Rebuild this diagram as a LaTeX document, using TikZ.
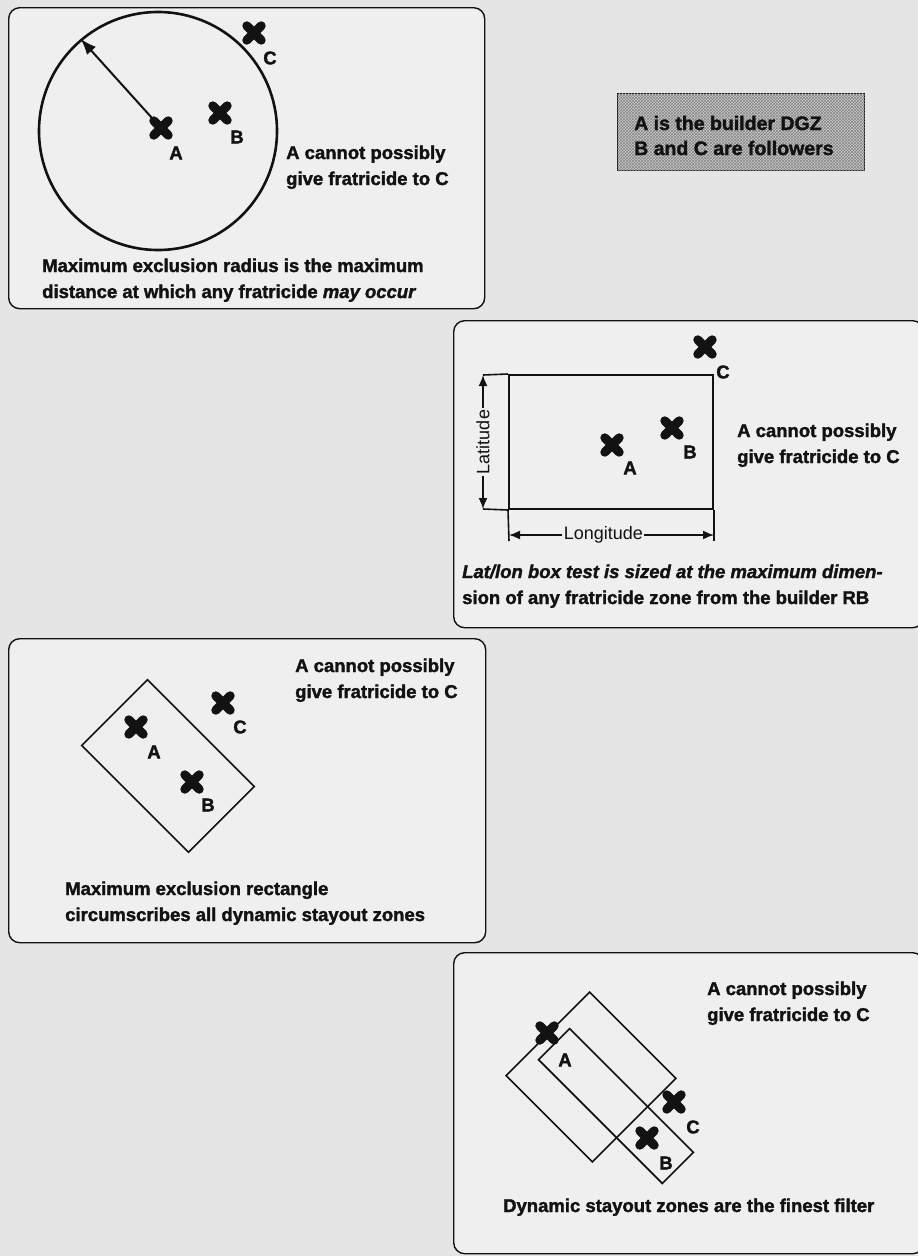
\documentclass[tikz,border=0pt]{standalone}
\usepackage{fontspec}
\setmainfont{Liberation Sans}[BoldFeatures={FakeBold=1.7},BoldItalicFeatures={FakeBold=1.7}]
\usetikzlibrary{arrows.meta,patterns}
\definecolor{pagebg}{RGB}{229,229,229}
\definecolor{panelbg}{RGB}{239,239,239}
\definecolor{ink}{RGB}{18,18,18}
\definecolor{hatchbg}{RGB}{205,205,205}
\definecolor{hatchfg}{RGB}{130,130,130}
\newcommand\xcross[2]{%
  \node[xm] (#1) at (#2) {};
  \draw[xarm] (#1.45) -- (#1.225) (#1.135) -- (#1.-45);}
\begin{document}
\begin{tikzpicture}[x=1pt,y=-1pt,
  pnl/.style={draw=ink, line width=1.4, rounded corners=11, fill=panelbg,
    anchor=north west, inner sep=0},
  xm/.style={circle, minimum size=20, inner sep=0},
  xarm/.style={draw=ink, line width=9, line cap=round},
  lbl/.style={font=\fontsize{18.5}{20}\selectfont\bfseries, inner sep=0, text=ink},
  txt/.style={font=\fontsize{18.5}{26}\selectfont\bfseries, align=left,
    inner sep=0, anchor=base west, text=ink},
  dimtxt/.style={font=\fontsize{18}{20}\selectfont, inner sep=1.5, fill=panelbg, text=ink},
  shape1/.style={draw=ink, line width=1.6, inner sep=0},
  dimline/.style={draw=ink, line width=1.6},
  dimarrow/.style={draw=ink, line width=1.6, {Latex[length=11,width=9]}-{Latex[length=11,width=9]}},
]
% page
\fill[pagebg] (0,0) rectangle (918,1256);
\useasboundingbox (0,0) rectangle (918,1256);

% ---------------- panel 1
\node[pnl, minimum width=476, minimum height=301] (p1) at (8,7) {};
\node[circle, draw=ink, line width=2.6, minimum size=238, inner sep=0] (circ1) at (158,131) {};
\xcross{A1}{161,128}
\xcross{B1}{220,113}
\xcross{C1}{254,33}
\node[lbl] (lA1) at (176,153) {A};
\node[lbl] (lB1) at (237,137) {B};
\node[lbl] (lC1) at (270,58) {C};
\draw[draw=ink, line width=2, -{Latex[length=16,width=12]}] (A1.center) -- (circ1.130);
\node[txt] (t1a) at (286,185) {A cannot possibly\\give fratricide to C};
\node[txt] (t1b) at (42,298) {Maximum exclusion radius is the maximum\\distance at which any fratricide \textit{may occur}};

% ---------------- legend
\node[draw=ink, line width=1.4, fill=hatchbg, minimum width=247, minimum height=77,
  anchor=north west, inner sep=0,
  postaction={pattern=crosshatch, pattern color=hatchfg}] (leg) at (617,93) {};
\node[font=\fontsize{19.5}{25}\selectfont\bfseries, align=left, inner sep=0,
  anchor=base west, text=ink] (legt) at (634,155) {A is the builder DGZ\\B and C are followers};

% ---------------- panel 2
\node[pnl, minimum width=470, minimum height=307] (p2) at (453,320) {};
\node[shape1, line width=2, minimum width=204, minimum height=134] (box2) at (611,442) {};
\coordinate (latT) at (483,375);
\coordinate (latB) at (483,509);
\coordinate (lonL) at (509,535);
\coordinate (lonR) at (714,535);
\coordinate (extL) at (509,541);
\coordinate (extR) at (714,541);
\draw[dimline] (box2.north west) -- (latT);
\draw[dimline] (box2.south west) -- (latB);
\draw[dimline] (box2.south west) -- (extL);
\draw[dimline] (box2.south east) -- (extR);
\draw[dimarrow] (latT) -- (latB) node[dimtxt, midway, rotate=90] (latlbl) {Latitude};
\draw[dimarrow] (lonL) -- (lonR) node[dimtxt, pos=0.46] (lonlbl) {Longitude};
\xcross{A2}{612,445}
\xcross{B2}{672,428}
\xcross{C2}{705,347}
\node[lbl] (lA2) at (630,468) {A};
\node[lbl] (lB2) at (690,452) {B};
\node[lbl] (lC2) at (723,372) {C};
\node[txt] (t2a) at (737,463) {A cannot possibly\\give fratricide to C};
\node[txt] (t2b) at (462,604) {\textit{Lat/lon box test is sized at the maximum dimen-}\\sion of any fratricide zone from the builder RB};

% ---------------- panel 3
\node[pnl, minimum width=477, minimum height=304] (p3) at (8,638) {};
\node[shape1, minimum width=151, minimum height=93, rotate=-45] (rect3) at (168,766) {};
\xcross{A3}{136,727}
\xcross{B3}{192,782}
\xcross{C3}{223,703}
\node[lbl] (lA3) at (154,752) {A};
\node[lbl] (lB3) at (208,805) {B};
\node[lbl] (lC3) at (240,727) {C};
\node[txt] (t3a) at (295,698) {A cannot possibly\\give fratricide to C};
\node[txt] (t3b) at (65,921) {Maximum exclusion rectangle\\circumscribes all dynamic stayout zones};

% ---------------- panel 4
\node[pnl, minimum width=470, minimum height=301] (p4) at (453,952) {};
\node[shape1, minimum width=122, minimum height=118, rotate=-45] (rect4a) at (591,1077) {};
\node[shape1, minimum width=175, minimum height=44, rotate=-45] (rect4b) at (616,1106) {};
\xcross{A4}{547,1033}
\xcross{B4}{647,1138}
\xcross{C4}{674,1102}
\node[lbl] (lA4) at (565,1060) {A};
\node[lbl] (lB4) at (666,1163) {B};
\node[lbl] (lC4) at (693,1127) {C};
\node[txt] (t4a) at (707,1021) {A cannot possibly\\give fratricide to C};
\node[txt] (t4b) at (503,1212) {Dynamic stayout zones are the finest filter};
\end{tikzpicture}
\end{document}
